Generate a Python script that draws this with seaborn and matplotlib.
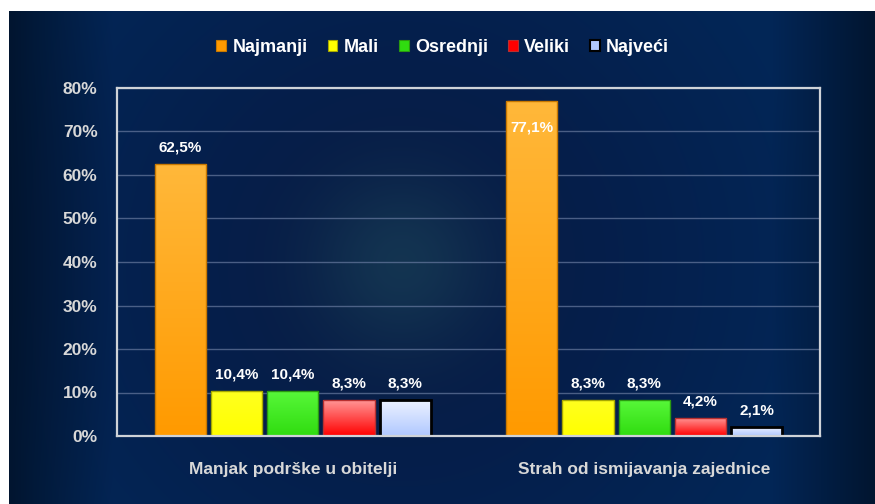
import numpy as np
import pandas as pd
import matplotlib
matplotlib.use("Agg")
import matplotlib.pyplot as plt
import matplotlib.colors as mcolors
from matplotlib.patches import Patch
import seaborn as sns

# data
categories = ["Manjak podrške u obitelji", "Strah od ismijavanja zajednice"]
levels = ["Najmanji", "Mali", "Osrednji", "Veliki", "Najveći"]
najmanji = [62.5, 77.1]
mali = [10.4, 8.3]
osrednji = [10.4, 8.3]
veliki = [8.3, 4.2]
najveci = [8.3, 2.1]
y_ticks = [0, 10, 20, 30, 40, 50, 60, 70, 80]

# colours: (top, bottom, edge)
bar_style = {
    "Najmanji": ("#ffb83a", "#ff9a00", "#c87800"),
    "Mali": ("#ffff20", "#ffff00", "#a8a800"),
    "Osrednji": ("#58f83a", "#30dc10", "#2a9a10"),
    "Veliki": ("#ff9a9a", "#ff0000", "#b83030"),
    "Najveći": ("#eef3ff", "#b0c8ff", "#000000"),
}

df = pd.DataFrame({
    "kategorija": categories * 5,
    "razina": [lv for lv in levels for _ in categories],
    "vrijednost": najmanji + mali + osrednji + veliki + najveci,
})

fig = plt.figure(figsize=(8.75, 5.04), dpi=100)
fig.patch.set_facecolor("white")

# dark blue backdrop panel with a soft glow in the middle
bg = fig.add_axes([9 / 875, 0, 866 / 875, 493 / 504], zorder=-10)
H, W = 493, 866
yy, xx = np.mgrid[0:H, 0:W].astype(float)
d = np.sqrt((xx - 392) ** 2 + (yy - 252) ** 2)
outer = np.array([0.01, 0.15, 0.34])
inner = np.array([0.03, 0.09, 0.25])
glow = np.array([0.09, 0.24, 0.34])
t = np.clip(d / 420, 0, 1)[..., None]
img = inner * (1 - t) + outer * t
g = 0.75 * np.exp(-(d / 95) ** 2)[..., None]
img = img * (1 - g) + glow * g
edge = np.minimum(xx, W - xx) / W
vig = np.clip(edge / 0.12, 0, 1)[..., None]
img = img * (0.55 + 0.45 * vig)
bg.imshow(np.clip(img, 0, 1), aspect="auto", interpolation="bilinear")
bg.axis("off")

ax = fig.add_axes([117 / 875, 1 - 436 / 504, 703 / 875, 348 / 504])
ax.patch.set_visible(False)

sns.barplot(data=df, x="kategorija", y="vrijednost", hue="razina",
            hue_order=levels, order=categories,
            palette=[bar_style[lv][1] for lv in levels],
            width=0.8, gap=0.09, legend=False, ax=ax, zorder=3)

plt.rcParams["font.family"] = ["Liberation Sans", "DejaVu Sans"]
font = ["Liberation Sans", "DejaVu Sans"]

ax.set_ylim(0, 80)
ax.set_xlim(-0.5, 1.5)

# gradient fills clipped to the bars
for lv, cont in zip(levels, ax.containers):
    top, bottom, ec = bar_style[lv]
    c0 = np.array(mcolors.to_rgb(top))
    c1 = np.array(mcolors.to_rgb(bottom))
    grad = np.linspace(0, 1, 64)[:, None, None]
    cols = c0 * (1 - grad) + c1 * grad
    for bar in cont:
        x, y = bar.get_x(), bar.get_y()
        w, h = bar.get_width(), bar.get_height()
        im = ax.imshow(cols, extent=[x, x + w, y, y + h], origin="upper",
                       aspect="auto", zorder=2.9, interpolation="bilinear")
        im.set_clip_path(bar)
        bar.set_facecolor("none")
        bar.set_edgecolor(ec)
        bar.set_linewidth(2.0 if lv == "Najveći" else 1.0)
        bar.set_zorder(3)
        val = bar.get_height()
        lbl = f"{val:.1f}%".replace(".", ",")
        cx = x + w / 2
        if val > 72:
            ax.annotate(lbl, (cx, val), xytext=(0, -19), textcoords="offset points",
                        ha="center", va="center", color="white", fontsize=11,
                        fontweight="bold", family=font, zorder=4)
        else:
            ax.annotate(lbl, (cx, val), xytext=(0, 7), textcoords="offset points",
                        ha="center", va="bottom", color="white", fontsize=11,
                        fontweight="bold", family=font, zorder=4)

ax.set_xlim(-0.5, 1.5)
ax.set_ylim(0, 80)
ax.set_yticks(y_ticks)
ax.set_yticklabels([f"{v}%" for v in y_ticks])
ax.grid(axis="y", color="#62759a", linewidth=1.0, alpha=0.75, zorder=1)
ax.grid(axis="x", visible=False)
ax.set_axisbelow(True)
ax.set_xlabel("")
ax.set_ylabel("")
ax.tick_params(axis="both", length=0, colors="#d8d8d8")
ax.tick_params(axis="y", pad=14)
ax.tick_params(axis="x", pad=19)
for lab in ax.get_yticklabels() + ax.get_xticklabels():
    lab.set_fontweight("bold")
    lab.set_family(font)
    lab.set_fontsize(12.5)
for sp in ax.spines.values():
    sp.set_visible(True)
    sp.set_color("#cfd3d8")
    sp.set_linewidth(1.6)
    sp.set_zorder(5)

handles = [Patch(facecolor=bar_style[lv][1], edgecolor=bar_style[lv][2],
                 linewidth=1.5 if lv == "Najveći" else 0.8) for lv in levels]
leg = fig.legend(handles, levels, loc="center", bbox_to_anchor=(0.506, 1 - 47 / 504),
                 ncol=5, frameon=False, handlelength=0.55, handleheight=0.55,
                 handletextpad=0.35, columnspacing=1.1,
                 prop={"family": font, "weight": "bold", "size": 13})
for txt in leg.get_texts():
    txt.set_color("white")

fig.savefig("out.png", dpi=100, facecolor="white")
